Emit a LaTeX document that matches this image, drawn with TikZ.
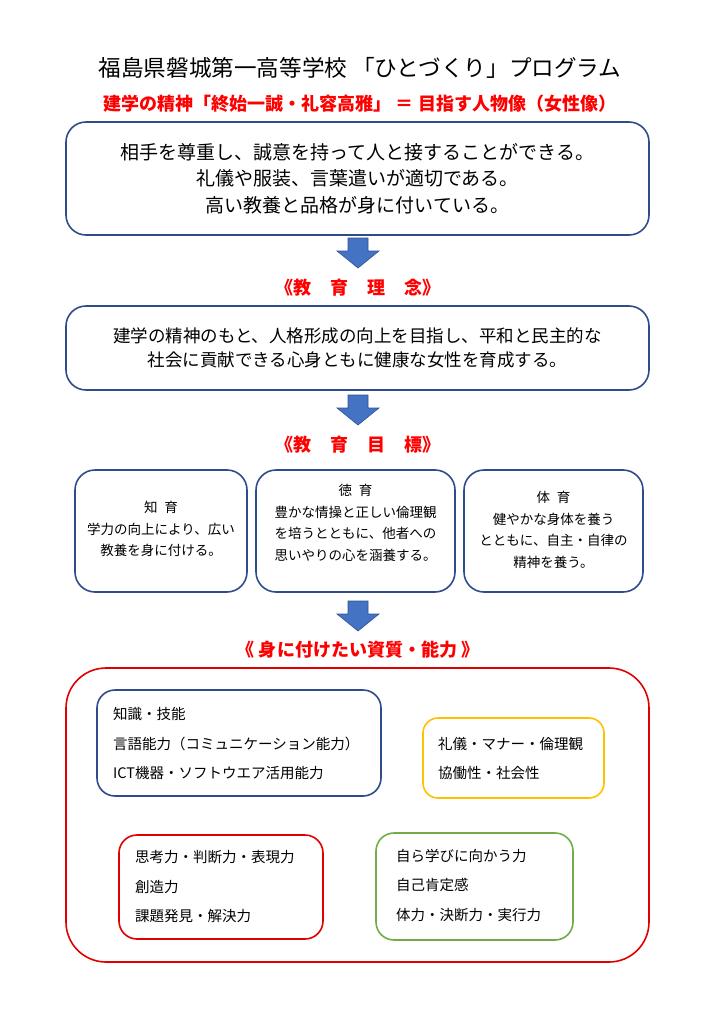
\documentclass[tikz,border=0pt]{standalone}
\usepackage{fontspec}
\setmainfont{Noto Sans CJK JP}
\definecolor{boxblue}{HTML}{2F4C8A}
\definecolor{arrowblue}{HTML}{4472C4}
\definecolor{arrowline}{HTML}{2F528F}
\definecolor{headred}{HTML}{FF0000}
\definecolor{boxred}{HTML}{E00000}
\definecolor{boxyellow}{HTML}{FFC000}
\definecolor{boxgreen}{HTML}{70AD47}
\tikzset{
  roundbox/.style={rectangle, rounded corners=#1, line width=1.6pt, inner sep=0pt, outer sep=0pt},
  bluebox/.style={roundbox=20pt, draw=boxblue},
  headtext/.style={text=headred, font=\bfseries\fontsize{18}{22}\selectfont, inner sep=0pt},
  bigtext/.style={align=center, inner sep=0pt, font=\fontsize{19}{26.5}\selectfont},
  midtext/.style={align=center, inner sep=0pt, font=\fontsize{17.5}{24}\selectfont},
  smalltext/.style={align=center, inner sep=0pt, font=\fontsize{13.5}{21.5}\selectfont},
  listtext/.style={align=left, anchor=west, inner sep=0pt, font=\fontsize{14.5}{29.5}\selectfont},
  blockarrow/.pic={
    \filldraw[fill=arrowblue, draw=arrowline, line width=0.6pt]
      (-10,0) -- (10,0) -- (10,13) -- (21,13) -- (0,30) -- (-21,13) -- (-10,13) -- cycle;
  }
}
\begin{document}
\begin{tikzpicture}[x=1pt, y=-1pt]
\useasboundingbox (0,0) rectangle (718,1016);

% title
\node[inner sep=0pt, font=\fontsize{22.6}{26}\selectfont] (title) at (360,68) {福島県磐城第一高等学校 「ひとづくり」プログラム};
\node[headtext] (sub) at (360,104) {建学の精神「終始一誠・礼容高雅」 ＝ 目指す人物像（女性像）};

% ideal person box
\node[bluebox, minimum width=583pt, minimum height=113pt] (ideal) at (357.5,178.5) {};
\node[bigtext] (idealtext) at (ideal.center) {相手を尊重し、誠意を持って人と接することができる。\\礼儀や服装、言葉遣いが適切である。\\高い教養と品格が身に付いている。};

\pic at (358,238) {blockarrow};

\node[headtext] (rinen) at (358,288) {《教\hspace{19pt}育\hspace{19pt}理\hspace{19pt}念》};
\node[bluebox, minimum width=583pt, minimum height=84pt] (rinenbox) at (357.5,348) {};
\node[midtext] (rinentext) at (rinenbox.center) {建学の精神のもと、人格形成の向上を目指し、平和と民主的な\\社会に貢献できる心身ともに健康な女性を育成する。};

\pic at (358,395) {blockarrow};

\node[headtext] (mokuhyo) at (358,445) {《教\hspace{19pt}育\hspace{19pt}目\hspace{19pt}標》};

\node[bluebox, minimum width=172pt, minimum height=122pt] (chi) at (161,531) {};
\node[bluebox, minimum width=199pt, minimum height=122pt] (toku) at (355.5,531) {};
\node[bluebox, minimum width=179pt, minimum height=122pt] (tai) at (553.5,531) {};
\node[smalltext] (chitext) at (161,529) {知\hspace{0.5em}育\\学力の向上により、広い\\教養を身に付ける。};
\node[smalltext] (tokutext) at (355.5,523) {徳\hspace{0.5em}育\\豊かな情操と正しい倫理観\\を培うとともに、他者への\\思いやりの心を涵養する。};
\node[smalltext] (taitext) at (553.5,530) {体\hspace{0.5em}育\\健やかな身体を養う\\とともに、自主・自律の\\精神を養う。};

\pic at (358,601) {blockarrow};

\node[headtext] (shishitsu) at (358,650) {《 身に付けたい資質・能力 》};

\node[roundbox=40pt, draw=boxred, minimum width=583pt, minimum height=294pt] (big) at (357.5,815) {};

\node[roundbox=18pt, draw=boxblue, minimum width=284pt, minimum height=106pt] (b1) at (239,743) {};
\node[roundbox=15pt, draw=boxyellow, minimum width=181pt, minimum height=80pt] (b2) at (513.5,758) {};
\node[roundbox=18pt, draw=boxred, minimum width=204pt, minimum height=104pt] (b3) at (221,887) {};
\node[roundbox=18pt, draw=boxgreen, minimum width=197pt, minimum height=107pt] (b4) at (474.5,886.5) {};

\node[listtext] (t1) at (113,744) {知識・技能\\言語能力（コミュニケーション能力）\\ICT機器・ソフトウエア活用能力};
\node[listtext] (t2) at (438,758.5) {礼儀・マナー・倫理観\\協働性・社会性};
\node[listtext] (t3) at (135,887) {思考力・判断力・表現力\\創造力\\課題発見・解決力};
\node[listtext] (t4) at (396,885.5) {自ら学びに向かう力\\自己肯定感\\体力・決断力・実行力};
\end{tikzpicture}
\end{document}
